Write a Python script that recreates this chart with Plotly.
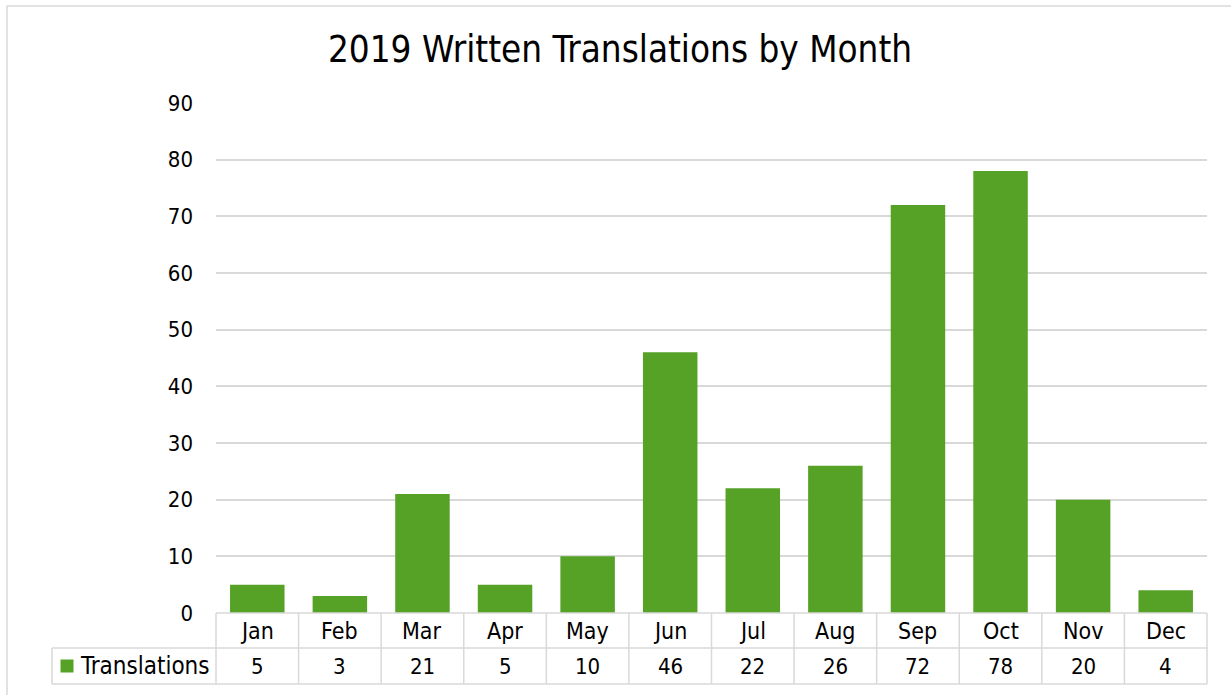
import plotly.graph_objects as go

months = ["Jan", "Feb", "Mar", "Apr", "May", "Jun", "Jul", "Aug", "Sep", "Oct", "Nov", "Dec"]
translations = [5, 3, 21, 5, 10, 46, 22, 26, 72, 78, 20, 4]
series_name = "Translations"
title = "2019 Written Translations by Month"
y_ticks = [0, 10, 20, 30, 40, 50, 60, 70, 80, 90]

W, H = 1231, 695
L, R, T, B = 216, 1207, 103, 613
GREEN = "#56A227"
GRID = "#D9D9D9"
FONT = "DejaVu Sans Condensed, DejaVu Sans"

def px(x):
    return (x - L) / (R - L)

def py(y):
    return (B - y) / (B - T)

fig = go.Figure()
fig.add_trace(go.Bar(x=list(range(len(months))), y=translations, marker_color=GREEN,
                     marker_line_width=0, name=series_name, showlegend=False))

shapes = []
ann = []
line = dict(color=GRID, width=1.5)
# outer border (right and bottom edges fall outside the view, as in the reference)
shapes.append(dict(type="rect", xref="paper", yref="paper", x0=px(7), x1=px(1240), y0=py(6), y1=py(705),
                   line=dict(color=GRID, width=1.5), layer="below"))
n = len(months)
cw = (R - L) / n
row1_top, row1_bot, row2_bot = 613, 648, 684
shapes.append(dict(type="line", xref="paper", yref="paper", x0=px(L), x1=px(R), y0=py(row1_top), y1=py(row1_top), line=line))
for yy in (row1_bot, row2_bot):
    shapes.append(dict(type="line", xref="paper", yref="paper", x0=px(52), x1=px(R), y0=py(yy), y1=py(yy), line=line))
shapes.append(dict(type="line", xref="paper", yref="paper", x0=px(52), x1=px(52), y0=py(row1_bot), y1=py(row2_bot), line=line))
for k in range(n + 1):
    xx = L + cw * k
    shapes.append(dict(type="line", xref="paper", yref="paper", x0=px(xx), x1=px(xx), y0=py(row1_top), y1=py(row2_bot), line=line))

for i, (m, v) in enumerate(zip(months, translations)):
    ann.append(dict(x=i, xref="x", yref="paper", y=py((row1_top + row1_bot) / 2), text=m, showarrow=False,
                    font=dict(family=FONT, size=23, color="#000"), xanchor="center", yanchor="middle"))
    ann.append(dict(x=i, xref="x", yref="paper", y=py((row1_bot + row2_bot) / 2), text=str(v), showarrow=False,
                    font=dict(family=FONT, size=22, color="#000"), xanchor="center", yanchor="middle"))

# legend key in table
shapes.append(dict(type="rect", xref="paper", yref="paper", x0=px(60.5), x1=px(73.5), y0=py(659.5), y1=py(672.5),
                   fillcolor=GREEN, line=dict(width=0)))
ann.append(dict(x=px(78), xref="paper", yref="paper", y=py((row1_bot + row2_bot) / 2), text=series_name, showarrow=False,
                font=dict(family=FONT, size=24, color="#000"), xanchor="left", yanchor="middle"))

fig.update_layout(
    width=W, height=H,
    margin=dict(l=L, r=W - R, t=T, b=H - B),
    paper_bgcolor="white", plot_bgcolor="white",
    title=dict(text=title, x=(620) / W, xanchor="center", y=1 - 49 / H, yanchor="middle",
               font=dict(family=FONT, size=36.5, color="#000")),
    bargap=0.34,
    xaxis=dict(range=[-0.5, n - 0.5], showticklabels=False, showgrid=False, zeroline=False, showline=False),
    yaxis=dict(range=[0, 90], tickvals=y_ticks, showgrid=True, gridcolor=GRID, gridwidth=1.5,
               zeroline=False, showline=False, ticklabelstandoff=22,
               tickfont=dict(family=FONT, size=22, color="#000")),
    shapes=shapes, annotations=ann,
    font=dict(family=FONT),
)

fig.write_html("out.html", config={"displayModeBar": False},
               post_script="document.body.style.margin='0';document.body.style.padding='0';window.dispatchEvent(new Event('resize'));")
